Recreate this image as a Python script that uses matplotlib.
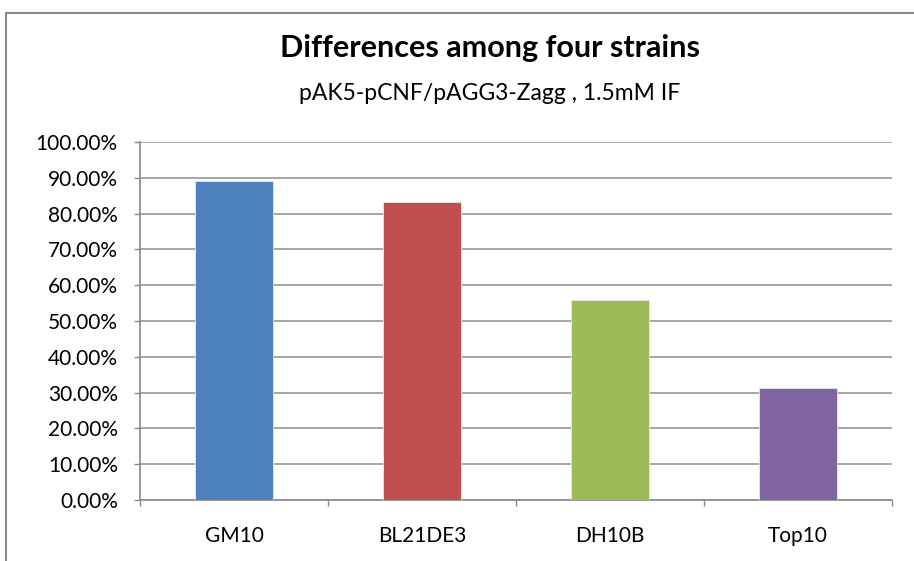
import matplotlib.pyplot as plt
from matplotlib.patches import Rectangle
from matplotlib.ticker import FuncFormatter, MultipleLocator

# data
strains = ["GM10", "BL21DE3", "DH10B", "Top10"]
values = [0.890, 0.832, 0.559, 0.313]
colors = ["#4F81BD", "#C0504D", "#9BBB59", "#8064A2"]

plt.rcParams['font.family'] = ['Lato', 'DejaVu Sans']

fig = plt.figure(figsize=(9.14, 5.61), dpi=100)
ax = fig.add_axes([0.1532, 0.1087, 0.8227, 0.6382])

# outer chart border (cropped on the right and bottom)
fig.patches.append(Rectangle((6 / 914, -0.1), 1.2, 1 - 13 / 561 + 0.1,
                             transform=fig.transFigure, fill=False,
                             edgecolor="#888888", linewidth=1.5))

x = range(len(strains))
ax.bar(x, values, width=0.41, color=colors, edgecolor="#e8e8e8", linewidth=0.6, zorder=3)

ax.set_xlim(-0.5, len(strains) - 0.5)
ax.set_ylim(0, 1.0)
ax.yaxis.set_major_locator(MultipleLocator(0.1))
ax.yaxis.set_major_formatter(FuncFormatter(lambda v, p: "%.2f%%" % (v * 100)))
ax.grid(axis="y", color="#a6a6a6", linewidth=1.4, zorder=0)

ax.set_xticks(list(x))
ax.set_xticklabels(strains)
ax.set_xticks([i - 0.5 for i in range(len(strains) + 1)], minor=True)
ax.tick_params(axis="x", which="major", length=0, pad=19, labelsize=15)
ax.tick_params(axis="x", which="minor", length=4, color="#888888", width=1)
ax.tick_params(axis="y", length=4, color="#888888", width=1, labelsize=15, pad=12)

for s in ["top", "right"]:
    ax.spines[s].set_visible(False)
for s in ["left", "bottom"]:
    ax.spines[s].set_color("#888888")
    ax.spines[s].set_linewidth(1.2)

fig.text(0.536, 0.914, "Differences among four strains", ha="center", va="center",
         fontsize=22, fontweight="bold")
fig.text(0.536, 0.834, "pAK5-pCNF/pAGG3-Zagg , 1.5mM IF", ha="center", va="center",
         fontsize=16.5)

fig.savefig("out.png", dpi=100)
